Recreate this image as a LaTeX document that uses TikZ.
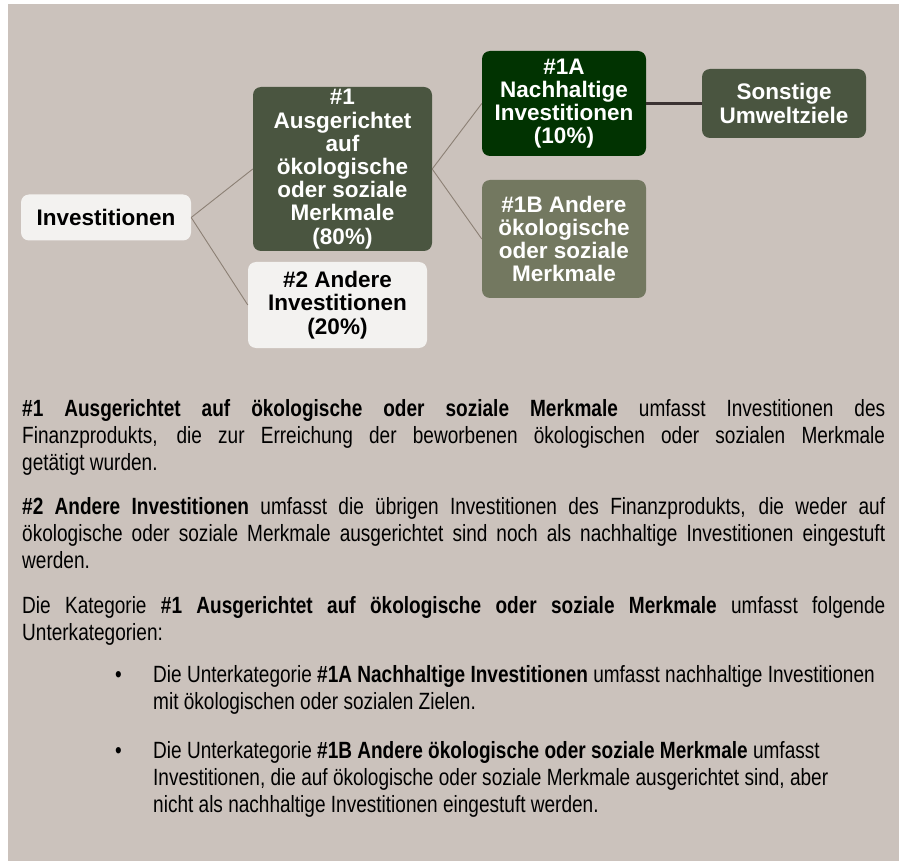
\documentclass[tikz,border=0pt]{standalone}
\usepackage{fontspec}
\setmainfont{Liberation Sans}
\newfontfamily\narrowfont[FakeStretch=0.81]{Liberation Sans}
\usepackage{tikz}
\definecolor{taupe}{HTML}{CBC2BC}
\definecolor{olive}{HTML}{4A5540}
\definecolor{deepgreen}{HTML}{013301}
\definecolor{sage}{HTML}{737860}
\definecolor{offwhite}{HTML}{F3F2F0}
\definecolor{twig}{HTML}{8C8075}
\definecolor{bark}{HTML}{3B3232}
\hyphenpenalty=10000
\tolerance=10000
\begin{document}
\begin{tikzpicture}[x=1pt,y=-1pt]
\tikzstyle{box}=[rounded corners=8pt,inner sep=0pt,align=center,font=\fontsize{22.5}{23.2}\selectfont\bfseries]
\tikzstyle{dark}=[box,fill=olive,text=white]
\tikzstyle{light}=[box,fill=offwhite,text=black]
\tikzstyle{link}=[draw=twig,line width=0.9pt]
\tikzstyle{para}=[inner sep=0pt,anchor=base west,font=\narrowfont\fontsize{23.5}{27.3}\selectfont]
    \useasboundingbox[fill=white] (0,0) rectangle (903,861);
    \fill[taupe] (8,4) rectangle (899,861);
    % tree
    \node[light,minimum width=170pt,minimum height=46pt](inv) at (106,217.5){Investitionen};
    \node[dark,minimum width=179pt,minimum height=164pt](a1) at (342.5,169){\#1\\Ausgerichtet\\auf\\ökologische\\oder soziale\\Merkmale\\(80\%)};
    \node[light,minimum width=179pt,minimum height=86pt](a2) at (337.5,305){\#2 Andere\\Investitionen\\(20\%)};
    \node[dark,fill=deepgreen,minimum width=164pt,minimum height=105pt](s1a) at (564,103.5){\#1A\\Nachhaltige\\Investitionen\\(10\%)};
    \node[dark,fill=sage,minimum width=164pt,minimum height=118pt](s1b) at (564,239){\#1B Andere\\ökologische\\oder soziale\\Merkmale};
    \node[dark,minimum width=164pt,minimum height=69pt](other) at (784,103.5){Sonstige\\Umweltziele};
    \draw[link](inv.east)--(a1.west);
    \draw[link](inv.east)--(a2.west);
    \draw[link](a1.east)--(s1a.west);
    \draw[link](a1.east)--(s1b.west);
    \draw[draw=bark,line width=2.5pt](s1a.east)--(other.west);
    % explanations
    \node[para,text width=863pt,align=justify](p1) at (22,416){\textbf{\#1 Ausgerichtet auf ökologische oder soziale Merkmale} umfasst Investitionen des\linebreak Finanzprodukts, die zur Erreichung der beworbenen ökologischen oder sozialen Merkmale\linebreak getätigt wurden.};
    \node[para,text width=863pt,align=justify](p2) at (22,514){\textbf{\#2 Andere Investitionen} umfasst die übrigen Investitionen des Finanzprodukts, die weder auf\linebreak ökologische oder soziale Merkmale ausgerichtet sind noch als nachhaltige Investitionen eingestuft\linebreak werden.};
    \node[para,text width=863pt,align=justify](p3) at (22,613){Die Kategorie \textbf{\#1 Ausgerichtet auf ökologische oder soziale Merkmale} umfasst folgende\linebreak Unterkategorien:};
    \node[para](d1) at (115,682){•};
    \node[para,text width=770pt,align=flush left](i1) at (153,682){Die Unterkategorie \textbf{\#1A Nachhaltige Investitionen} umfasst nachhaltige Investitionen\\mit ökologischen oder sozialen Zielen.};
    \node[para](d2) at (115,758){•};
    \node[para,text width=770pt,align=flush left](i2) at (153,758){Die Unterkategorie \textbf{\#1B Andere ökologische oder soziale Merkmale} umfasst\\Investitionen, die auf ökologische oder soziale Merkmale ausgerichtet sind, aber\\nicht als nachhaltige Investitionen eingestuft werden.};
\end{tikzpicture}
\end{document}
